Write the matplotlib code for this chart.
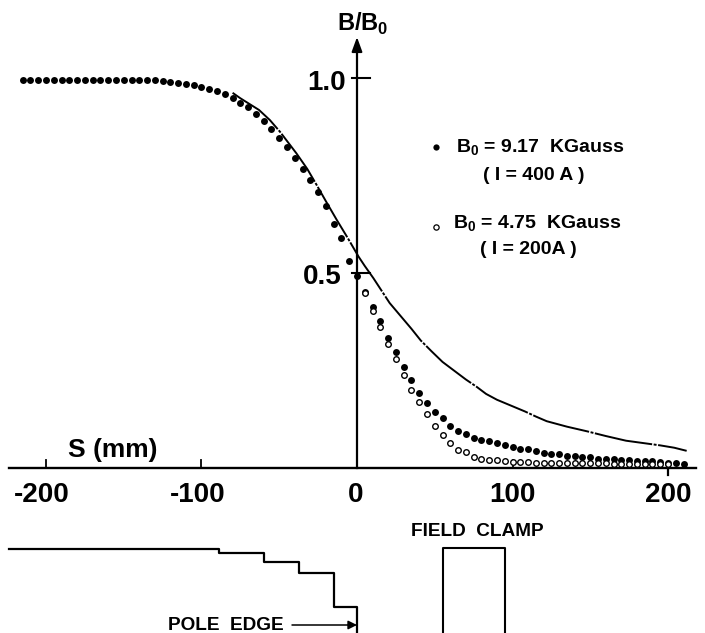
import numpy as np
import matplotlib
matplotlib.use("Agg")
import matplotlib.pyplot as plt

s_filled = list(range(-215, 215, 5))
b_filled = [0.995, 0.995, 0.995, 0.995, 0.995, 0.995, 0.995, 0.995, 0.995, 0.995, 0.995, 0.995, 0.995, 0.995, 0.995,
            0.995, 0.995, 0.994, 0.992,
            0.99, 0.988, 0.985, 0.982, 0.978, 0.973, 0.966, 0.958, 0.948, 0.937, 0.925, 0.908, 0.89, 0.87, 0.846,
            0.822, 0.795, 0.767, 0.738, 0.708, 0.672, 0.625, 0.59, 0.53, 0.492,
            0.452, 0.412, 0.377, 0.334, 0.297, 0.259, 0.225, 0.192, 0.167, 0.144, 0.127, 0.107, 0.096, 0.088, 0.078,
            0.072, 0.068, 0.065, 0.06, 0.055, 0.05, 0.048, 0.044, 0.039, 0.037, 0.036, 0.032, 0.03, 0.028, 0.027,
            0.024, 0.023, 0.022, 0.021, 0.02, 0.019, 0.018, 0.017, 0.016, 0.014, 0.012, 0.011]
s_open = list(range(5, 205, 5))
b_open = [0.449, 0.402, 0.361, 0.319, 0.279, 0.238, 0.199, 0.168, 0.138, 0.107, 0.084, 0.064, 0.047, 0.041, 0.029,
          0.024, 0.021, 0.02, 0.019, 0.016, 0.015, 0.015, 0.014, 0.014, 0.013, 0.013, 0.013, 0.012, 0.012, 0.012,
          0.012, 0.012, 0.011, 0.011, 0.011, 0.011, 0.011, 0.01, 0.01, 0.01]
s_curve = [-80, -75, -63, -56, -49.5, -39, -32, -26, -20, -13, -6, 1, 5, 10.5, 21, 28, 35, 41, 48, 55, 63, 70, 77, 83,
           90, 99, 108, 115, 122, 135, 148, 160, 173, 184, 195, 204, 212]
b_curve = [0.962, 0.948, 0.918, 0.892, 0.862, 0.807, 0.767, 0.726, 0.684, 0.636, 0.59, 0.542, 0.518, 0.487, 0.423, 0.39,
           0.357, 0.327, 0.299, 0.272, 0.248, 0.227, 0.208, 0.19, 0.175, 0.16, 0.145, 0.132, 0.12, 0.106, 0.094, 0.082,
           0.07, 0.064, 0.058, 0.052, 0.044]
pole_s = [-224, -89, -89, -60, -60, -37, -37, -15, -15, 0, 0]
pole_y = [-0.208, -0.208, -0.217, -0.217, -0.241, -0.241, -0.27, -0.27, -0.356, -0.356, -0.423]
clamp_s = [55, 55, 95, 95]
clamp_y = [-0.423, -0.205, -0.205, -0.423]
xticks = [-200, -100, 0, 100, 200]
xticklabels = ["-200", "-100", "0", "100", "200"]

PX = 1.555
PY = 390.0
plt.rcParams['font.family'] = ['Liberation Sans', 'DejaVu Sans']
plt.rcParams['mathtext.fontset'] = 'custom'
plt.rcParams['mathtext.rm'] = 'Liberation Sans'
plt.rcParams['mathtext.bf'] = 'Liberation Sans:bold'
fig = plt.figure(figsize=(7.05, 6.33), dpi=100)
ax = fig.add_axes([0, 0, 1, 1])
ax.set_xlim(-357 / PX, (705 - 357) / PX)
ax.set_ylim((468 - 633) / PY, 468 / PY)
ax.axis('off')

ax.plot([-224, 218], [0, 0], color='k', lw=1.7)
ax.plot([0, 0], [0, 1.09], color='k', lw=1.6)
ax.annotate('', xy=(0, 1.105), xytext=(0, 1.05),
            arrowprops=dict(arrowstyle='-|>,head_length=0.55,head_width=0.2', color='k', lw=1.4,
                            mutation_scale=16, shrinkA=0, shrinkB=0))
for t in [0.5, 1.0]:
    ax.plot([-3, 8.4], [t, t], color='k', lw=1.5)
for t in [-200, -100, 100]:
    ax.plot([t, t], [0, 0.02], color='k', lw=1.3)
ax.plot([200, 200], [-0.018, 0], color='k', lw=1.6)

ax.plot(s_curve, b_curve, color='k', lw=1.4, dashes=(30, 0.8, 1.5, 0.8))
ax.plot(s_filled, b_filled, 'o', color='k', ms=5.0, mew=0)
ax.plot(s_open, b_open, 'o', mfc='white', mec='k', ms=4.0, mew=1.0)

ax.plot(pole_s, pole_y, color='k', lw=1.6)
ax.plot(clamp_s, clamp_y, color='k', lw=1.5)
ax.annotate('', xy=(0, (468 - 625) / PY), xytext=(-41.8, (468 - 625) / PY),
            arrowprops=dict(arrowstyle='-|>', color='k', lw=1.1, mutation_scale=13, shrinkA=0, shrinkB=0))

kw = dict(color='k', fontweight='bold', ha='center', va='center')
label_px = [42, 198, 356, 512, 668]
for px, lab in zip(label_px, xticklabels):
    ax.text((px - 357) / PX, (468 - 495) / PY, lab, fontsize=20, **kw)
ax.text((327 - 357) / PX, (468 - 83) / PY, '1.0', fontsize=20, **kw)
ax.text((322 - 357) / PX, (468 - 277) / PY, '0.5', fontsize=20, **kw)
ax.text((363 - 357) / PX, (468 - 24) / PY, r'B/B$_{\mathbf{0}}$', fontsize=17, **kw)
ax.text((113 - 357) / PX, (468 - 450) / PY, 'S (mm)', fontsize=19, **kw)
ax.text((477 - 357) / PX, (468 - 531) / PY, 'FIELD  CLAMP', fontsize=13.7, **kw)
ax.text((226 - 357) / PX, (468 - 625) / PY, 'POLE  EDGE', fontsize=13.7, **kw)

ax.plot([(436 - 357) / PX], [(468 - 147) / PY], 'o', color='k', ms=4.5, mew=0)
ax.plot([(436 - 357) / PX], [(468 - 227) / PY], 'o', mfc='white', mec='k', ms=3.8, mew=0.9)
lk = dict(color='k', fontweight='bold', ha='left', va='center', fontsize=14)
ax.text((456 - 357) / PX, (468 - 148) / PY, r'B$_{\mathbf{0}}$ = 9.17  KGauss', **lk)
ax.text((483 - 357) / PX, (468 - 175) / PY, '( I = 400 A )', **lk)
ax.text((453 - 357) / PX, (468 - 224) / PY, r'B$_{\mathbf{0}}$ = 4.75  KGauss', **lk)
ax.text((480 - 357) / PX, (468 - 250) / PY, '( I = 200A )', **lk)

fig.savefig('out.png', dpi=100)
